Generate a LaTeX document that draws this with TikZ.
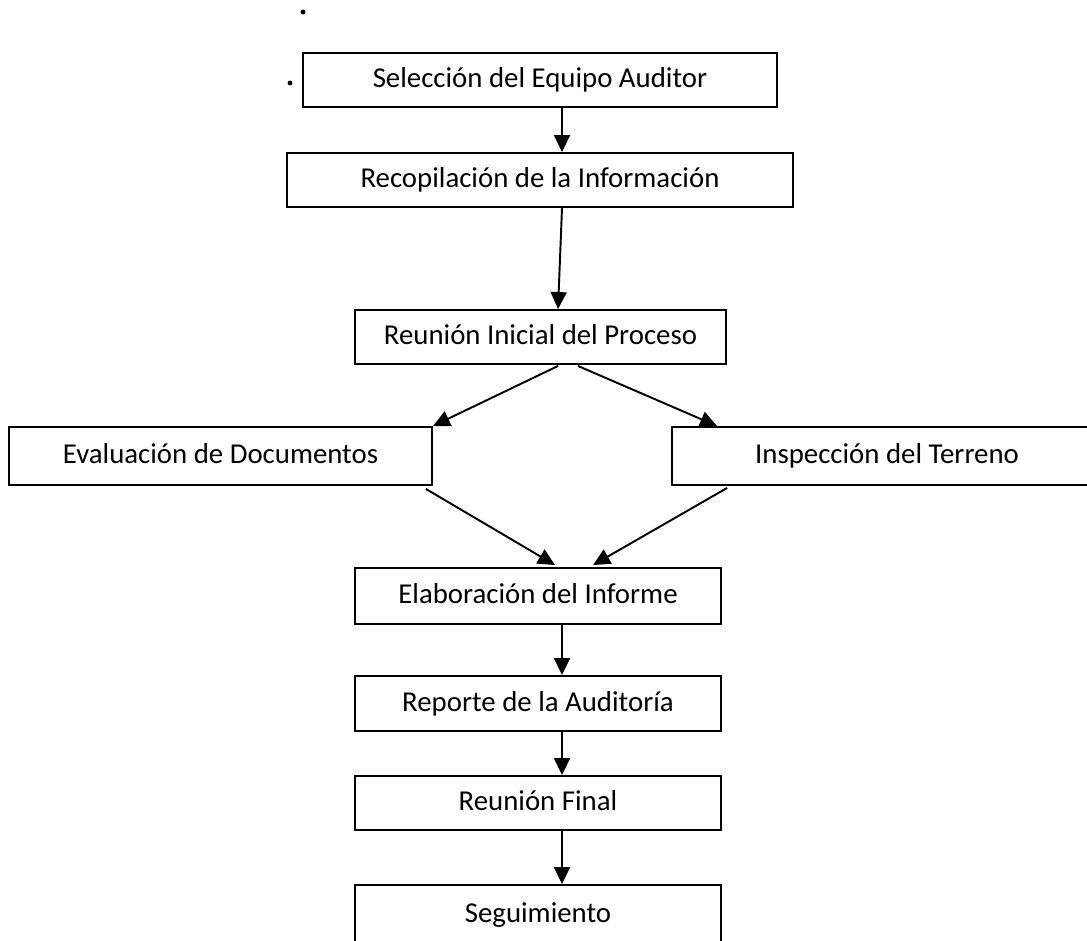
\documentclass[tikz,border=0pt]{standalone}
\usepackage{fontspec}
\setmainfont{Carlito}
\usetikzlibrary{arrows.meta,calc}

\begin{document}
\begin{tikzpicture}[x=0.02cm,y=-0.02cm,>={Triangle[length=0.34cm,width=0.32cm]},font=\fontsize{16.4}{19}\selectfont,
  caja/.style={draw,line width=1.1pt,inner sep=0pt,text height=1.15em,text depth=0.25em},
  flecha/.style={->,line width=1.1pt}]
  \useasboundingbox (0,0) rectangle (1087,940);
  \clip (0,0) rectangle (1087,940);
  \fill (303,12) circle (1.4pt);
  \fill (290,83) circle (1.4pt);
  \node[caja,minimum width=9.48cm,minimum height=1.08cm] (sel) at (540,80) {Selección del Equipo Auditor};
  \node[caja,minimum width=10.12cm,minimum height=1.08cm] (rec) at (540,180) {Recopilación de la Información};
  \node[caja,minimum width=7.42cm,minimum height=1.08cm] (ini) at (540.5,337) {Reunión Inicial del Proceso};
  \node[caja,minimum width=8.46cm,minimum height=1.16cm] (eva) at (220.5,456) {Evaluación de Documentos};
  \node[caja,minimum width=8.6cm,minimum height=1.16cm] (ins) at (887,456) {Inspección del Terreno};
  \node[caja,minimum width=7.32cm,minimum height=1.12cm] (ela) at (538,596) {Elaboración del Informe};
  \node[caja,minimum width=7.32cm,minimum height=1.1cm] (rep) at (538,703.5) {Reporte de la Auditoría};
  \node[caja,minimum width=7.32cm,minimum height=1.08cm] (fin) at (538,803) {Reunión Final};
  \node[caja,minimum width=7.32cm,minimum height=1.2cm] (seg) at (538,915) {Seguimiento};
  \draw[flecha] ($(sel.south)+(22,0)$) -- ($(rec.north)+(22,0)$);
  \draw[flecha] ($(rec.south)+(22,0)$) -- ($(ini.north)+(17.5,0)$);
  \draw[flecha] ($(ini.south)+(17.5,1)$) -- (eva.north east);
  \draw[flecha] ($(ini.south)+(37.5,1)$) -- ($(ins.north west)+(46,0)$);
  \draw[flecha] ($(eva.south east)+(-7,3)$) -- ($(ela.north)+(17,-2)$);
  \draw[flecha] ($(ins.south west)+(56,2)$) -- ($(ela.north)+(55,-2)$);
  \draw[flecha] ($(ela.south)+(24,0)$) -- ($(rep.north)+(24,0)$);
  \draw[flecha] ($(rep.south)+(24,0)$) -- ($(fin.north)+(24,0)$);
  \draw[flecha] ($(fin.south)+(24,0)$) -- ($(seg.north)+(24,0)$);
\end{tikzpicture}
\end{document}
